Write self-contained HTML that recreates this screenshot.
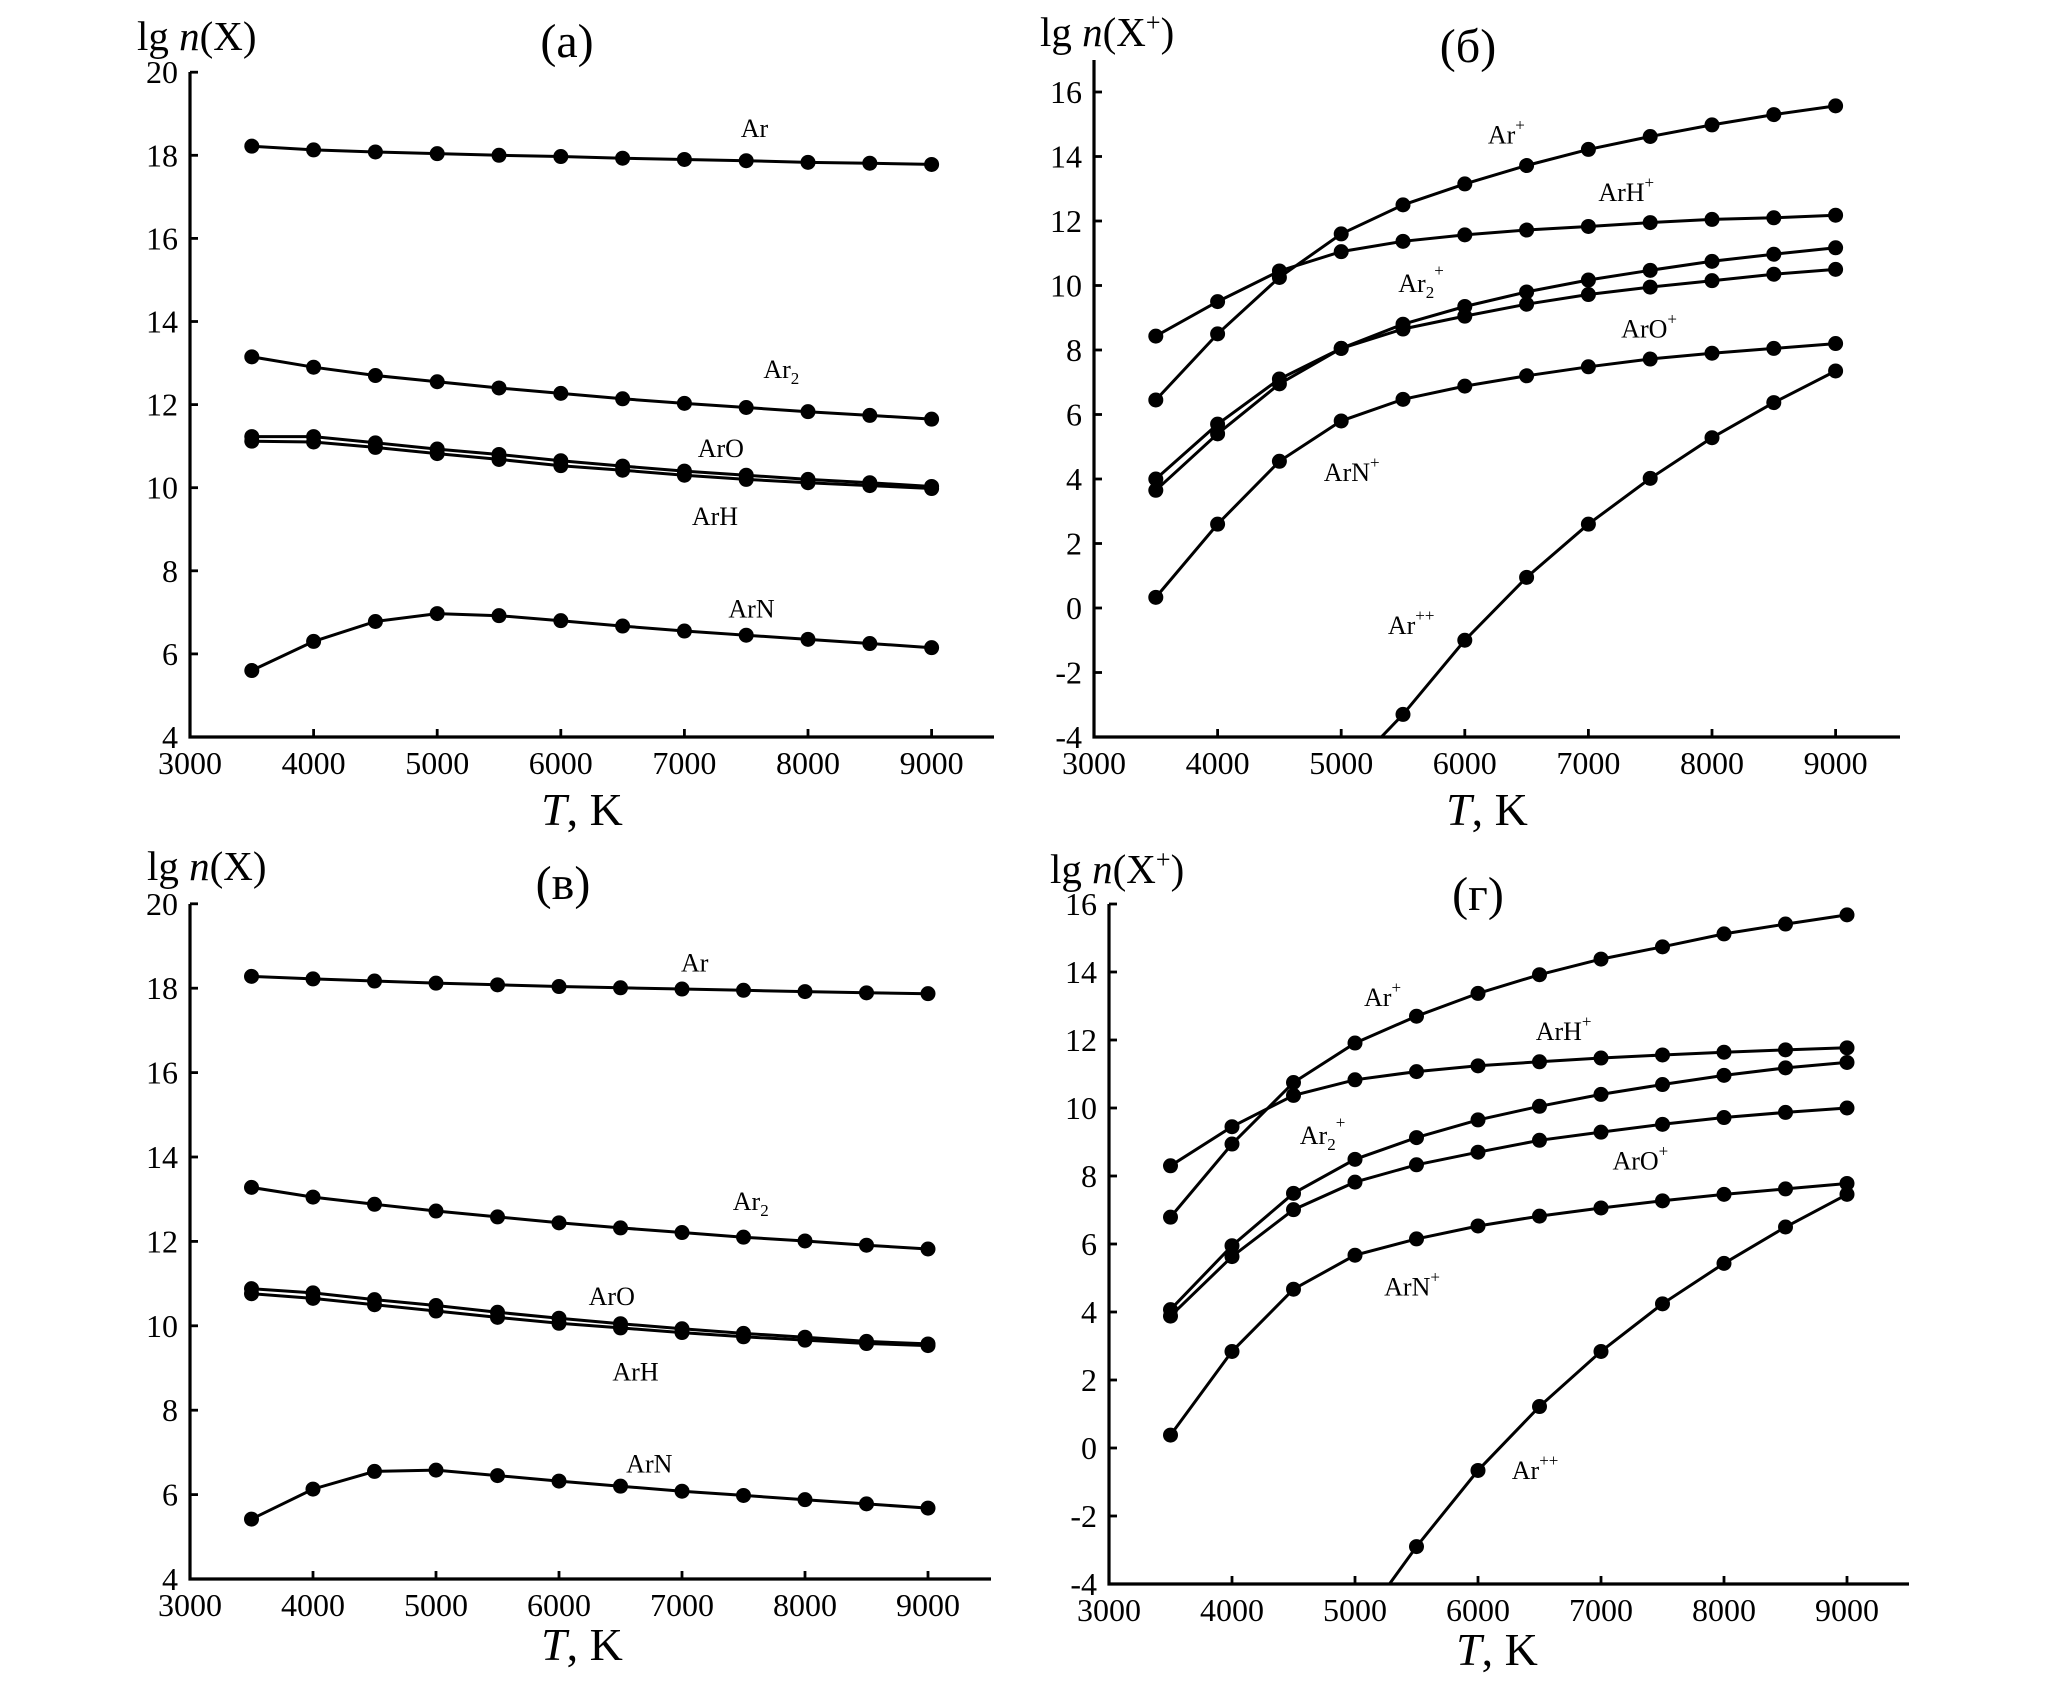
<!DOCTYPE html>
<html><head><meta charset="utf-8">
<style>
html,body{margin:0;padding:0;background:#fff;}
svg{display:block;}
text{font-family:"Liberation Serif",serif;fill:#000;}
</style></head>
<body>
<svg id="chart" width="2067" height="1691" viewBox="0 0 2067 1691" xmlns="http://www.w3.org/2000/svg"></svg>
<script>
// Shared x categories (temperature, K)
const temps = [3500,4000,4500,5000,5500,6000,6500,7000,7500,8000,8500,9000];
const xTicks = [3000,4000,5000,6000,7000,8000,9000];
const yTicksNeutral = [4,6,8,10,12,14,16,18,20];
const yTicksIon = [-4,-2,0,2,4,6,8,10,12,14,16];

// Panel (a) series
const aAr  = [18.22,18.13,18.08,18.04,18.0,17.97,17.93,17.9,17.87,17.83,17.81,17.78];
const aAr2 = [13.15,12.9,12.7,12.55,12.4,12.27,12.14,12.03,11.93,11.83,11.74,11.65];
const aArO = [11.23,11.23,11.08,10.93,10.8,10.65,10.52,10.4,10.3,10.2,10.12,10.03];
const aArH = [11.12,11.1,10.97,10.82,10.68,10.53,10.42,10.3,10.2,10.12,10.05,9.98];
const aArN = [5.6,6.3,6.78,6.97,6.92,6.8,6.67,6.55,6.45,6.35,6.25,6.15];

// Panel (б) series
const bArP   = [6.45,8.5,10.25,11.6,12.5,13.15,13.72,14.22,14.62,14.98,15.3,15.57];
const bArHP  = [8.43,9.5,10.45,11.05,11.37,11.57,11.72,11.83,11.95,12.05,12.1,12.18];
const bAr2P  = [4.0,5.7,7.1,8.05,8.8,9.35,9.8,10.17,10.47,10.75,10.97,11.17];
const bArOP  = [3.65,5.4,6.95,8.05,8.65,9.05,9.42,9.72,9.95,10.15,10.35,10.5];
const bArNP  = [0.33,2.6,4.55,5.8,6.47,6.88,7.2,7.48,7.72,7.9,8.05,8.2];
const bArPP  = [null,null,null,-5.3,-3.3,-1.0,0.95,2.6,4.02,5.28,6.37,7.35];

// Panel (в) series
const cAr  = [18.28,18.22,18.17,18.12,18.08,18.04,18.01,17.98,17.95,17.92,17.89,17.87];
const cAr2 = [13.28,13.05,12.88,12.72,12.58,12.44,12.32,12.21,12.1,12.01,11.91,11.82];
const cArO = [10.88,10.78,10.62,10.48,10.32,10.18,10.05,9.93,9.82,9.73,9.63,9.57];
const cArH = [10.76,10.65,10.5,10.35,10.2,10.06,9.95,9.84,9.74,9.66,9.58,9.53];
const cArN = [5.42,6.13,6.55,6.58,6.45,6.32,6.2,6.08,5.98,5.88,5.78,5.68];

// Panel (г) series
const dArP  = [6.79,8.94,10.75,11.91,12.7,13.37,13.92,14.38,14.74,15.12,15.41,15.68];
const dArHP = [8.3,9.45,10.37,10.83,11.07,11.24,11.36,11.47,11.56,11.64,11.71,11.77];
const dAr2P = [4.07,5.95,7.49,8.49,9.13,9.65,10.05,10.4,10.69,10.96,11.18,11.34];
const dArOP = [3.88,5.63,7.01,7.82,8.33,8.7,9.05,9.29,9.52,9.72,9.87,10.0];
const dArNP = [0.38,2.84,4.67,5.67,6.15,6.53,6.82,7.06,7.27,7.46,7.62,7.78];
const dArPP = [null,null,null,-5.4,-2.9,-0.66,1.22,2.84,4.24,5.43,6.5,7.46];

const NS = "http://www.w3.org/2000/svg";
const svg = document.getElementById('chart');
function mk(tag, parent){ const e=document.createElementNS(NS,tag); parent.appendChild(e); return e; }

function panel(p){
  const g = mk('g', svg);
  
  
  const X = v => p.x0 + (v-3000)/1000*p.xs;
  const Y = v => p.yb - (v-p.ymin)/2*p.ys;
  const yTopPx = p.ytop;
  const cid = 'clip-'+p.name;
  const cp = mk('clipPath', g); cp.setAttribute('id', cid);
  const cr = mk('rect', cp);
  cr.setAttribute('x', p.x0-10); cr.setAttribute('y', yTopPx-10);
  cr.setAttribute('width', p.xend-p.x0+20); cr.setAttribute('height', p.yb-yTopPx+10);
  const ax = mk('path', g);
  
  
  ax.setAttribute('d', `M${p.x0},${yTopPx} L${p.x0},${p.yb} L${p.xend},${p.yb}`);
  ax.setAttribute('stroke', '#000'); ax.setAttribute('stroke-width', '3.2'); ax.setAttribute('fill', 'none');
  p.yticks.forEach(v=>{
    const y = Y(v);
    const t = mk('line', g);
    
    
    t.setAttribute('x1', p.x0); t.setAttribute('x2', p.x0+8); t.setAttribute('y1', y); t.setAttribute('y2', y);
    t.setAttribute('stroke', '#000'); t.setAttribute('stroke-width', '2.8');
    const l = mk('text', g);
    
    
    l.setAttribute('x', p.x0-12); l.setAttribute('y', y+11);
    l.setAttribute('text-anchor', 'end'); l.setAttribute('font-size', '32');
    l.textContent = v;
  });
  xTicks.forEach(v=>{
    const x = X(v);
    const t = mk('line', g);
    
    
    t.setAttribute('x1', x); t.setAttribute('x2', x); t.setAttribute('y1', p.yb); t.setAttribute('y2', p.yb-8);
    t.setAttribute('stroke', '#000'); t.setAttribute('stroke-width', '2.8');
    const l = mk('text', g);
    
    
    l.setAttribute('x', x); l.setAttribute('y', p.yb+37);
    l.setAttribute('text-anchor', 'middle'); l.setAttribute('font-size', '32');
    l.textContent = v;
  });
  p.series.forEach(s=>{
    const sg = mk('g', g);
    
    
    sg.setAttribute('clip-path', `url(#${cid})`);
    let d='';
    s.vals.forEach((v,i)=>{ if(v===null) return; d += (d?'L':'M') + X(temps[i]).toFixed(1)+','+Y(v).toFixed(1)+' '; });
    const pl = mk('path', sg);
    
    
    pl.setAttribute('d', d); pl.setAttribute('fill','none'); pl.setAttribute('stroke','#000'); pl.setAttribute('stroke-width','3');
    s.vals.forEach((v,i)=>{
      if(v===null || v < p.ymin) return;
      const c = mk('circle', sg);
      
      
      c.setAttribute('cx', X(temps[i])); c.setAttribute('cy', Y(v)); c.setAttribute('r', '7.5'); c.setAttribute('fill', '#000');
    });
  });
  p.labels.forEach(L=>{
    const t = mk('text', g);
    
    
    t.setAttribute('x', X(L[1])); t.setAttribute('y', Y(L[2])+9);
    t.setAttribute('text-anchor', 'middle'); t.setAttribute('font-size', '26');
    t.innerHTML = L[0];
  });
  const yt = mk('text', g);
  
  
  yt.setAttribute('x', p.ytx); yt.setAttribute('y', p.yty); yt.setAttribute('font-size', '41');
  yt.innerHTML = p.ytitle;
  const xt = mk('text', g);
  
  
  xt.setAttribute('x', p.xtx); xt.setAttribute('y', p.xty); xt.setAttribute('font-size', '46'); xt.setAttribute('text-anchor','middle');
  xt.innerHTML = '<tspan font-style="italic">T</tspan>, K';
  const pt = mk('text', g);
  
  
  pt.setAttribute('x', p.ttx); pt.setAttribute('y', p.tty+16); pt.setAttribute('font-size', '48'); pt.setAttribute('text-anchor','middle');
  pt.textContent = p.title;
}

const sub2 = '<tspan font-size="17" dy="6">2</tspan>';
const supP = '<tspan font-size="17" dy="-13">+</tspan>';
const ytN = 'lg <tspan font-style="italic">n</tspan>(X)';
const ytI = 'lg <tspan font-style="italic">n</tspan>(X<tspan font-size="26" dy="-15">+</tspan><tspan dy="15">)</tspan>';
const sup2P = '<tspan font-size="17" dy="-22">+</tspan>';
const supPP = '<tspan font-size="17" dy="-13">++</tspan>';

panel({name:'panel-a', x0:190, xs:123.6, xend:994, yb:737, ymin:4, ys:83.1, ytop:72, yticks:yTicksNeutral,
  series:[{id:'ar',vals:aAr},{id:'ar2',vals:aAr2},{id:'aro',vals:aArO},{id:'arh',vals:aArH},{id:'arn',vals:aArN}],
  labels:[['Ar',7567,18.66],['Ar'+sub2,7784,12.86],['ArO',7295,10.96],['ArH',7247,9.32],['ArN',7543,7.09]],
  ytitle:ytN, ytx:137, yty:50, xtx:582, xty:825, title:'(a)', ttx:567, tty:41});

panel({name:'panel-b', x0:1094, xs:123.6, xend:1900, yb:737, ymin:-4, ys:64.5, ytop:60, yticks:yTicksIon,
  series:[{id:'ar-plus',vals:bArP},{id:'arh-plus',vals:bArHP},{id:'ar2-plus',vals:bAr2P},{id:'aro-plus',vals:bArOP},{id:'arn-plus',vals:bArNP},{id:'ar-plusplus',vals:bArPP}],
  labels:[['Ar'+supP,6336,14.68],['ArH'+supP,7306,12.9],['Ar'+sub2+sup2P,5646,10.08],['ArO'+supP,7491,8.67],['ArN'+supP,5085,4.22],['Ar'+supPP,5566,-0.53]],
  ytitle:ytI, ytx:1040, yty:46, xtx:1487, xty:825, title:'(б)', ttx:1468, tty:46});

panel({name:'panel-v', x0:190, xs:123, xend:991, yb:1579, ymin:4, ys:84.4, ytop:904, yticks:yTicksNeutral,
  series:[{id:'ar',vals:cAr},{id:'ar2',vals:cAr2},{id:'aro',vals:cArO},{id:'arh',vals:cArH},{id:'arn',vals:cArN}],
  labels:[['Ar',7103,18.61],['Ar'+sub2,7559,12.96],['ArO',6429,10.71],['ArH',6622,8.92],['ArN',6734,6.74]],
  ytitle:ytN, ytx:147, yty:880, xtx:582, xty:1660, title:'(в)', ttx:563, tty:883});

panel({name:'panel-g', x0:1109, xs:123, xend:1909, yb:1584, ymin:-4, ys:68, ytop:904, yticks:yTicksIon,
  series:[{id:'ar-plus',vals:dArP},{id:'arh-plus',vals:dArHP},{id:'ar2-plus',vals:dAr2P},{id:'aro-plus',vals:dArOP},{id:'arn-plus',vals:dArNP},{id:'ar-plusplus',vals:dArPP}],
  labels:[['Ar'+supP,5224,13.26],['ArH'+supP,6696,12.27],['Ar'+sub2+sup2P,4736,9.21],['ArO'+supP,7320,8.45],['ArN'+supP,5464,4.75],['Ar'+supPP,6464,-0.65]],
  ytitle:ytI, ytx:1050, yty:883, xtx:1497, xty:1665, title:'(г)', ttx:1478, tty:894});
</script>
</body></html>
